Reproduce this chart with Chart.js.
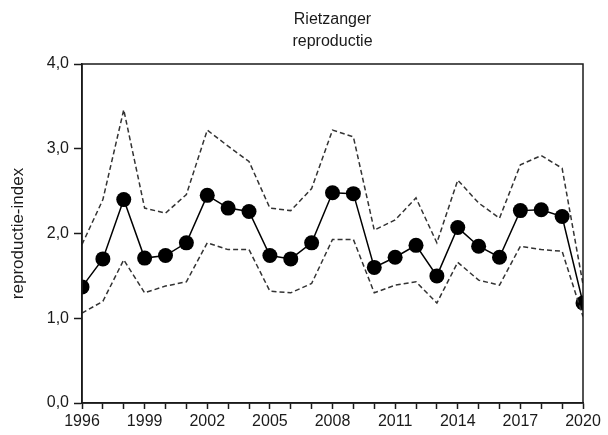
<!DOCTYPE html>
<html>
<head>
<meta charset="utf-8">
<script src="https://cdn.jsdelivr.net/npm/chart.js@4/dist/chart.umd.min.js"></script>
<style>
  html, body { margin: 0; padding: 0; background: #fff; }
  #wrap { width: 608px; height: 435px; }
</style>
</head>
<body>
<div id="wrap"><canvas id="chart"></canvas></div>
<script>
const years = [1996, 1997, 1998, 1999, 2000, 2001, 2002, 2003, 2004, 2005, 2006, 2007, 2008,
  2009, 2010, 2011, 2012, 2013, 2014, 2015, 2016, 2017, 2018, 2019, 2020];
const index = [1.37, 1.70, 2.40, 1.71, 1.74, 1.89, 2.45, 2.30, 2.26, 1.74, 1.70, 1.89, 2.48,
  2.47, 1.60, 1.72, 1.86, 1.50, 2.07, 1.85, 1.72, 2.27, 2.28, 2.20, 1.18];
const upper = [1.87, 2.40, 3.46, 2.30, 2.24, 2.46, 3.22, 3.03, 2.85, 2.30, 2.27, 2.53, 3.22,
  3.14, 2.04, 2.16, 2.42, 1.89, 2.63, 2.36, 2.18, 2.81, 2.92, 2.77, 1.40];
const lower = [1.06, 1.20, 1.69, 1.30, 1.38, 1.43, 1.89, 1.81, 1.81, 1.32, 1.30, 1.41, 1.93,
  1.93, 1.30, 1.39, 1.43, 1.18, 1.66, 1.45, 1.39, 1.85, 1.81, 1.79, 1.02];
const yTicks = [0, 1, 2, 3, 4];
const titleLines = ["Rietzanger", "reproductie"];

const FONT = "'Liberation Sans', Arial, sans-serif";
const INK = "#1a1a1a";

function toPoints(values) {
  return values.map((v, i) => ({ x: years[i], y: v }));
}

// box around the plot area + title centred over the plot
const frame = {
  id: "frame",
  afterDraw(chart) {
    const { ctx, chartArea: a } = chart;
    ctx.save();
    ctx.strokeStyle = INK;
    ctx.lineWidth = 1.5;
    ctx.strokeRect(a.left, a.top, a.right - a.left, a.bottom - a.top);
    ctx.fillStyle = INK;
    ctx.font = "16px " + FONT;
    ctx.textAlign = "center";
    ctx.textBaseline = "middle";
    const cx = (a.left + a.right) / 2;
    titleLines.forEach((t, i) => ctx.fillText(t, cx, 20 + i * 22));
    ctx.restore();
  },
};

const dashed = {
  borderColor: "#333",
  borderWidth: 1.5,
  borderDash: [5, 3],
  pointRadius: 0,
  tension: 0,
  fill: false,
};

new Chart(document.getElementById("chart"), {
  type: "line",
  data: {
    datasets: [
      { label: "bovengrens", data: toPoints(upper), ...dashed },
      { label: "ondergrens", data: toPoints(lower), ...dashed },
      {
        label: "reproductie",
        data: toPoints(index),
        borderColor: "#000",
        backgroundColor: "#000",
        borderWidth: 1.5,
        pointRadius: 7.5,
        pointBackgroundColor: "#000",
        pointBorderWidth: 0,
        tension: 0,
      },
    ],
  },
  options: {
    responsive: true,
    maintainAspectRatio: false,
    animation: false,
    layout: { padding: { left: 0, right: 25, top: 64, bottom: 0 } },
    plugins: {
      legend: { display: false },
      tooltip: { enabled: false },
      title: { display: false },
    },
    scales: {
      x: {
        type: "linear",
        min: 1996,
        max: 2020,
        afterBuildTicks: (scale) => {
          scale.ticks = years.map((y) => ({ value: y }));
        },
        afterFit: (scale) => { scale.height = 32; },
        ticks: {
          autoSkip: false,
          maxRotation: 0,
          color: INK,
          padding: 3,
          font: { family: FONT, size: 16 },
          callback: (v) => ((v - 1996) % 3 === 0 ? String(v) : ""),
        },
        grid: { drawOnChartArea: false, color: INK, tickLength: 6, tickWidth: 1.5 },
        border: { color: INK, width: 1.5 },
      },
      y: {
        min: 0,
        max: 4,
        afterBuildTicks: (scale) => {
          scale.ticks = yTicks.map((v) => ({ value: v }));
        },
        afterFit: (scale) => { scale.width = 82; },
        ticks: {
          color: INK,
          padding: 5,
          font: { family: FONT, size: 16 },
          callback: (v) => v.toFixed(1).replace(".", ","),
        },
        grid: { drawOnChartArea: false, color: INK, tickLength: 8, tickWidth: 1.5 },
        border: { color: INK, width: 1.5 },
        title: {
          display: true,
          text: "reproductie-index",
          color: INK,
          font: { family: FONT, size: 17 },
          padding: { top: 8, bottom: 4 },
        },
      },
    },
  },
  plugins: [frame],
});
</script>
</body>
</html>
